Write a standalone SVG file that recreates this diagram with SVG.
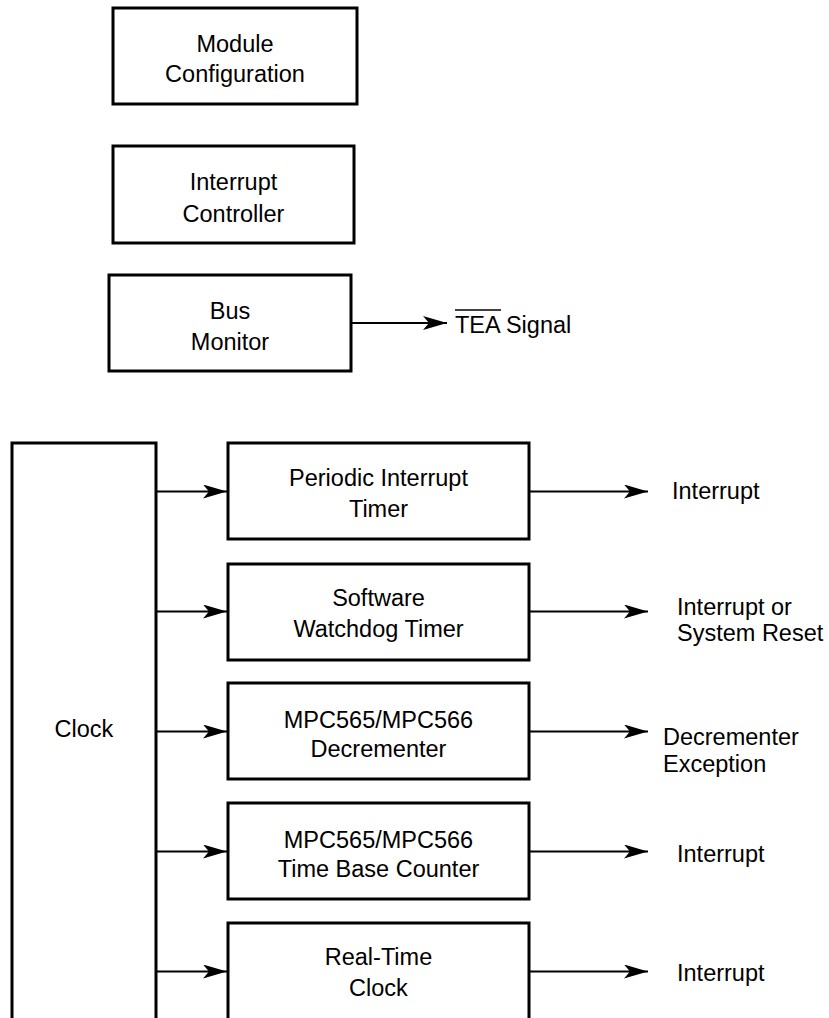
<svg xmlns="http://www.w3.org/2000/svg" width="829" height="1018" viewBox="0 0 829 1018">
  <style>
    .box { fill: #fff; stroke: #000; stroke-width: 3; }
    .open { fill: none; stroke: #000; stroke-width: 3; }
    .t { font-family: "Liberation Sans", Arial, sans-serif; font-size: 23.5px; fill: #000; }
    .c { text-anchor: middle; }
    .conn { stroke: #000; stroke-width: 2; fill: none; marker-end: url(#arr); }
  </style>
  <defs>
    <marker id="arr" markerUnits="userSpaceOnUse" viewBox="0 0 24 14" refX="24" refY="7" markerWidth="24" markerHeight="14" orient="auto">
      <path d="M0,0 L24,7 L0,14 L6,7 Z" fill="#000"/>
    </marker>
  </defs>
  <rect width="829" height="1018" fill="#fff"/>

  <g id="module-configuration">
    <rect class="box" x="113" y="8" width="244" height="96"/>
    <text class="t c" x="235" y="52">Module</text>
    <text class="t c" x="235" y="82">Configuration</text>
  </g>

  <g id="interrupt-controller">
    <rect class="box" x="113" y="146" width="241" height="97"/>
    <text class="t c" x="233.5" y="190">Interrupt</text>
    <text class="t c" x="233.5" y="222">Controller</text>
  </g>

  <g id="bus-monitor">
    <rect class="box" x="109" y="275" width="242" height="96"/>
    <text class="t c" x="230" y="319">Bus</text>
    <text class="t c" x="230" y="350">Monitor</text>
  </g>

  <g id="tea-signal">
    <text class="t" x="455" y="333">TEA Signal</text>
    <line x1="455" y1="310" x2="501" y2="310" stroke="#000" stroke-width="1.5"/>
  </g>

  <g id="clock">
    <path class="open" d="M12,1022 V443 H156 V1022"/>
    <text class="t c" x="84" y="737">Clock</text>
  </g>

  <g id="periodic-interrupt-timer">
    <rect class="box" x="228" y="443" width="301" height="96"/>
    <text class="t c" x="378.5" y="486">Periodic Interrupt</text>
    <text class="t c" x="378.5" y="517">Timer</text>
  </g>

  <g id="software-watchdog-timer">
    <rect class="box" x="228" y="564" width="301" height="96"/>
    <text class="t c" x="378.5" y="606">Software</text>
    <text class="t c" x="378.5" y="637">Watchdog Timer</text>
  </g>

  <g id="decrementer">
    <rect class="box" x="228" y="683" width="301" height="96"/>
    <text class="t c" x="378.5" y="728">MPC565/MPC566</text>
    <text class="t c" x="378.5" y="757">Decrementer</text>
  </g>

  <g id="time-base-counter">
    <rect class="box" x="228" y="803" width="301" height="96"/>
    <text class="t c" x="378.5" y="848">MPC565/MPC566</text>
    <text class="t c" x="378.5" y="877">Time Base Counter</text>
  </g>

  <g id="real-time-clock">
    <path class="open" d="M228,1022 V923 H529 V1022"/>
    <text class="t c" x="378.5" y="965">Real-Time</text>
    <text class="t c" x="378.5" y="996">Clock</text>
  </g>

  <g id="output-labels">
    <text class="t" x="672" y="499">Interrupt</text>
    <text class="t" x="677" y="615">Interrupt or</text>
    <text class="t" x="677" y="641">System Reset</text>
    <text class="t" x="663" y="745">Decrementer</text>
    <text class="t" x="663" y="772">Exception</text>
    <text class="t" x="677" y="862">Interrupt</text>
    <text class="t" x="677" y="981">Interrupt</text>
  </g>

  <g id="connectors">
    <line class="conn" x1="351" y1="323" x2="447" y2="323"/>
    <line class="conn" x1="156" y1="491.5" x2="227" y2="491.5"/>
    <line class="conn" x1="156" y1="611.5" x2="227" y2="611.5"/>
    <line class="conn" x1="156" y1="731.5" x2="227" y2="731.5"/>
    <line class="conn" x1="156" y1="851.5" x2="227" y2="851.5"/>
    <line class="conn" x1="156" y1="971.5" x2="227" y2="971.5"/>
    <line class="conn" x1="529" y1="491.5" x2="648" y2="491.5"/>
    <line class="conn" x1="529" y1="611.5" x2="648" y2="611.5"/>
    <line class="conn" x1="529" y1="731.5" x2="648" y2="731.5"/>
    <line class="conn" x1="529" y1="851.5" x2="648" y2="851.5"/>
    <line class="conn" x1="529" y1="971.5" x2="648" y2="971.5"/>
  </g>
</svg>
